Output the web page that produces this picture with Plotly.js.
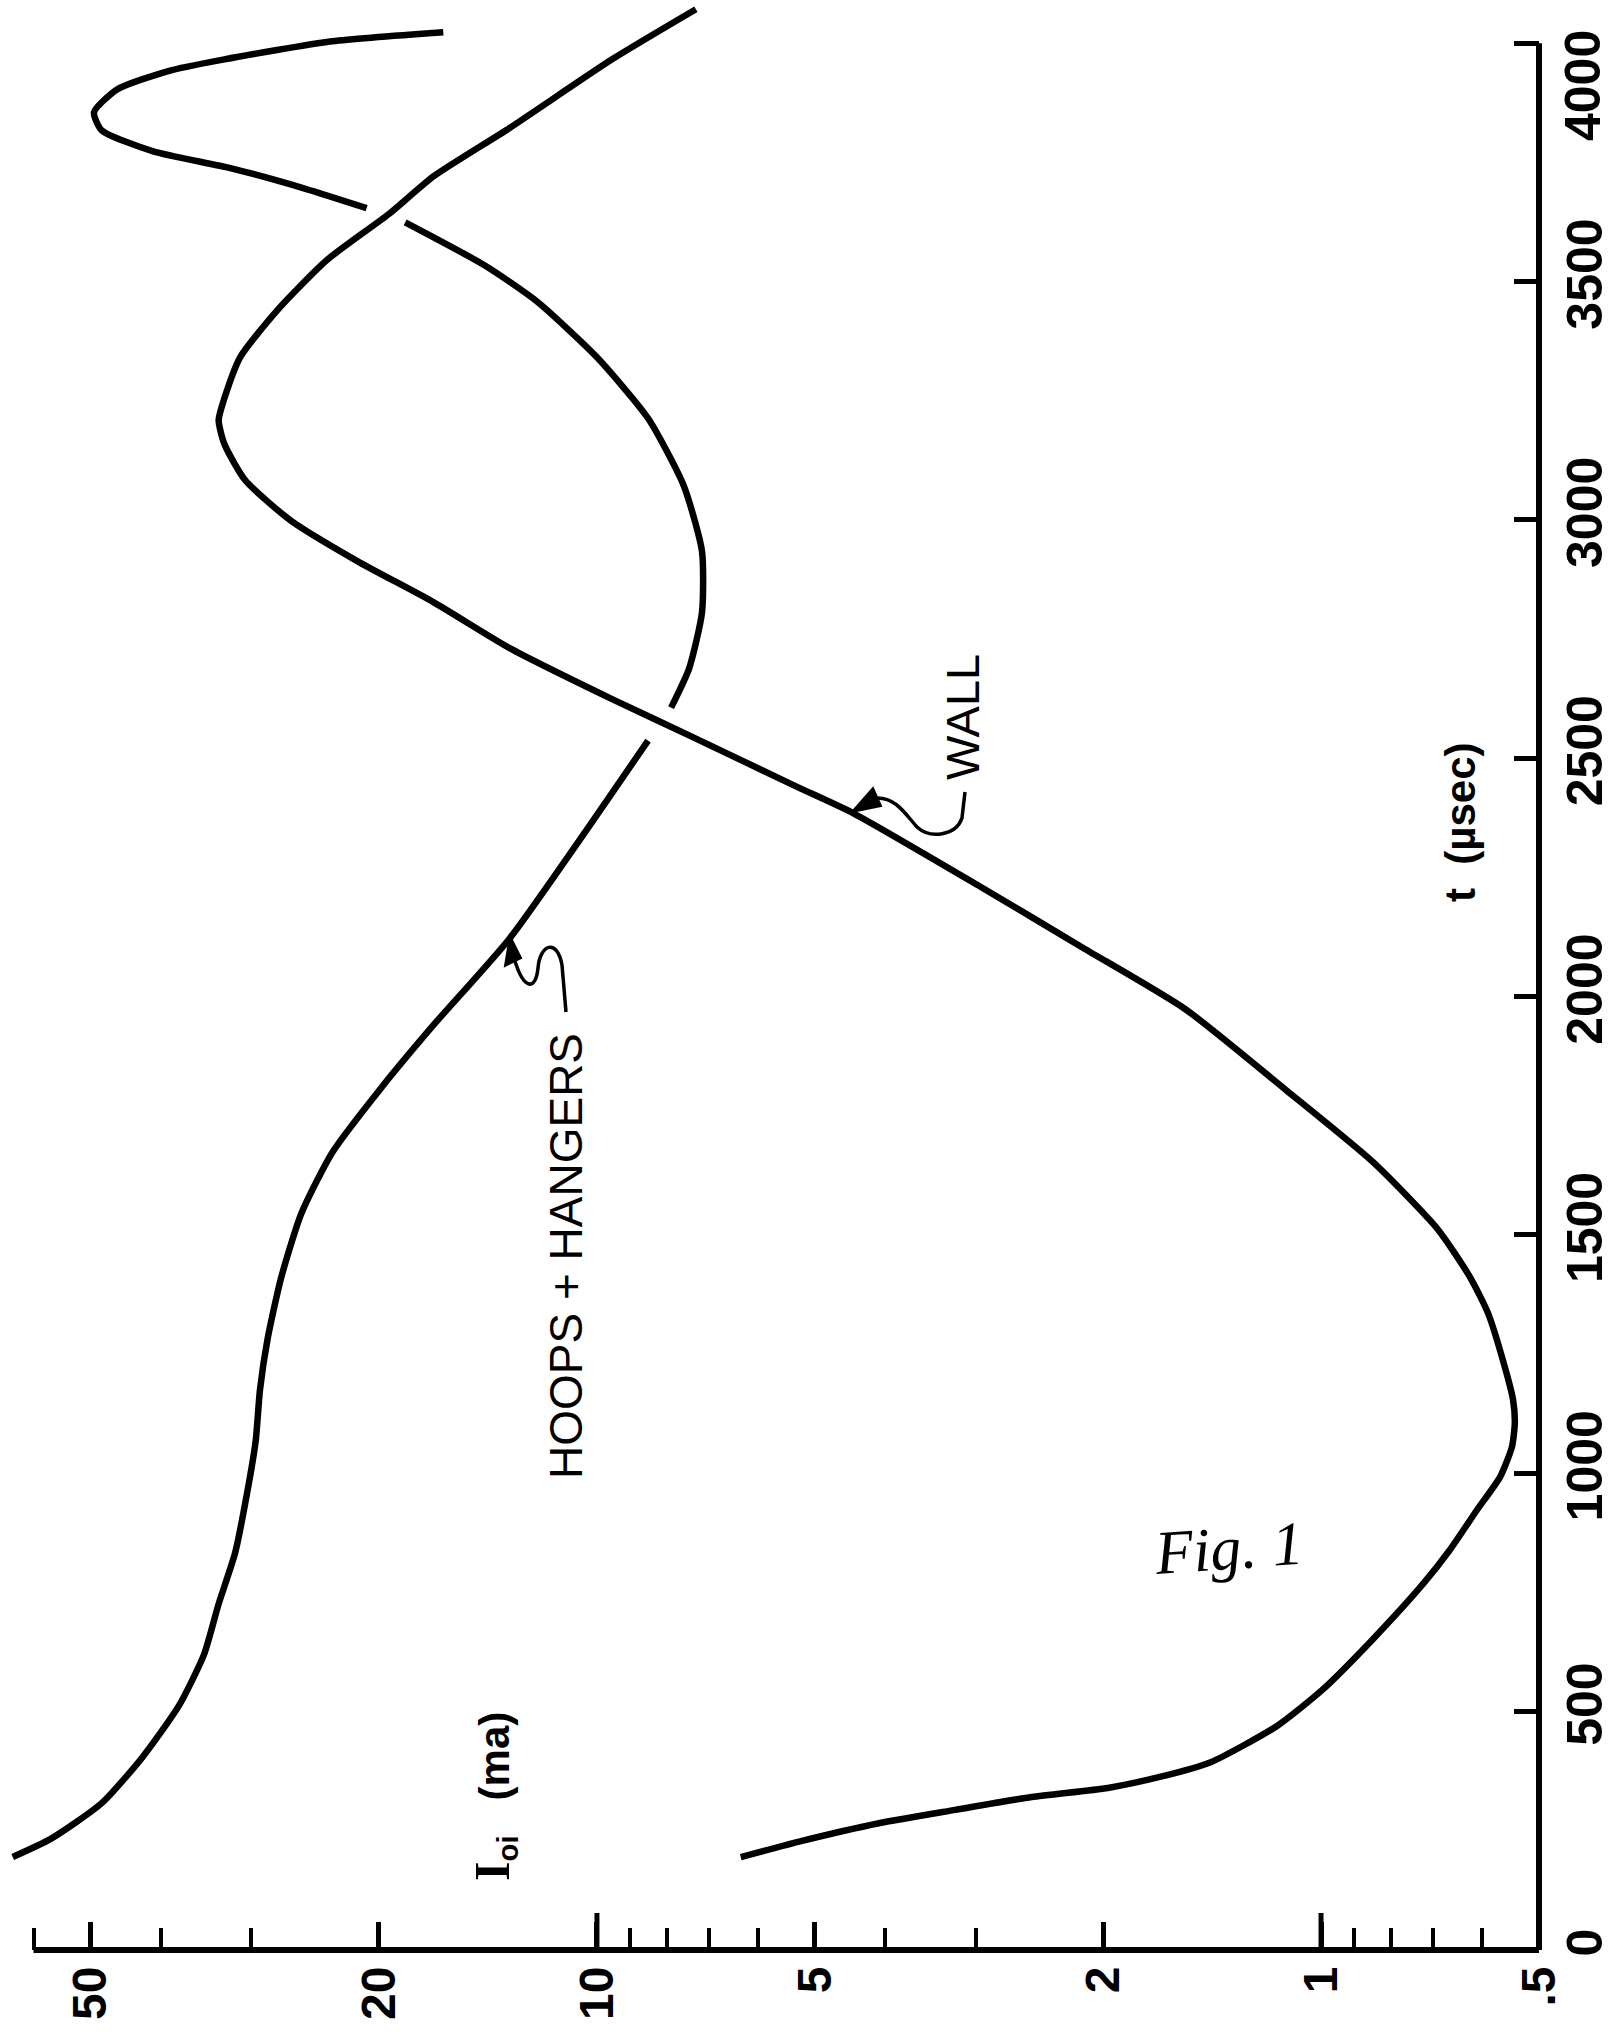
<!DOCTYPE html>
<html>
<head>
<meta charset="utf-8">
<script src="https://cdn.plot.ly/plotly-3.0.1.min.js"></script>
<style>
  html, body { margin: 0; padding: 0; background: #ffffff; }
  #chart { width: 1615px; height: 2036px; }
</style>
</head>
<body>
<div id="chart"></div>
<script>
// ---- data ----
// t in microseconds, current I_oi in ma (log scale)
const tHoops = [195,233,308,405,512,619,726,833,961,1068,1175,1282,1410,1545,1673,1811,1941,2122,2411,2537,null,2606,2688,2806,2934,3072,3213,3341,3458,3534,3624,null,3654,3694,3738,3773,3817,3855,3903,3941,3966,4004,4023];
const iHoops = [64.1,56.8,48.3,42.4,37.8,34.9,33.3,31.6,30.4,29.6,29.2,28.5,27.3,25.6,23.2,19.8,16.8,13.2,9.69,8.5,null,7.9,7.46,7.16,7.16,7.59,8.5,10.0,12.1,14.3,18.4,null,20.8,25.2,32.1,41.0,48.3,49.5,46.0,39.2,32.7,23.2,16.3];

const tWall = [195,229,266,294,321,340,363,394,470,545,652,770,839,923,992,1055,1105,1154,1238,1336,1412,1512,1653,1802,1974,2102,2230,2385,2441,2548,2624,2731,2827,2913,2999,3083,3159,3209,3255,3341,3438,3545,3641,3721,3822,3966,4071];
const iWall = [6.33,5.21,4.08,3.20,2.51,1.97,1.67,1.42,1.15,0.997,0.848,0.721,0.664,0.609,0.566,0.545,0.540,0.543,0.561,0.588,0.623,0.690,0.848,1.114,1.541,2.13,2.95,4.43,5.31,7.46,9.53,13.2,16.8,21.4,26.5,30.6,32.7,33.3,32.7,31.1,27.7,23.6,19.4,16.8,13.2,9.53,7.30];

const currentTickVals = [50,20,10,5,2,1,0.5];
const currentTickText = ['50','20','10','5','2','1','.5'];
const currentMinorVals = [60,40,30,9,8,7,6,4,3,0.9,0.8,0.7,0.6];
const currentLongVals = [10,1];
const timeTickVals = [0,500,1000,1500,2000,2500,3000,3500];
const timeTickText = ['0','500','1000','1500','2000','2500','3000','3500'];
const timeTopVal = 4000;
const timeTopText = '4000';

const seriesNames = ['HOOPS + HANGERS','WALL'];

// ---- layout geometry ----
const W = 1615, H = 2036;
const mL = 4, mR = 76, mT = 5, mB = 86;
const plotW = W - mL - mR, plotH = H - mT - mB;
const P = (x, y) => ((x - mL) / plotW).toFixed(5) + ',' + ((H - mB - y) / plotH).toFixed(5);
const px = x => (x - mL) / plotW;
const py = y => (H - mB - y) / plotH;

const sans = 'Liberation Sans, Arial, Helvetica, sans-serif';
const tickFontY = {family: sans, size: 50, color: '#000', weight: 'bold'};
const tickFontX = {family: sans, size: 48, color: '#000', weight: 'bold'};

const lineStyle = {color: '#000', width: 6.5, shape: 'spline', smoothing: 0.6};
const traces = [
  {x: iHoops, y: tHoops, name: seriesNames[0], type: 'scatter', mode: 'lines', line: lineStyle, connectgaps: false},
  {x: iWall, y: tWall, name: seriesNames[1], type: 'scatter', mode: 'lines', line: lineStyle}
];

const shapes = [
  // axis lines
  {type: 'line', xref: 'x', yref: 'paper', x0: 60, x1: 0.5, y0: 0, y1: 0, line: {color: '#000', width: 6}},
  {type: 'line', xref: 'paper', yref: 'y', x0: 1, x1: 1, y0: 0, y1: timeTopVal, line: {color: '#000', width: 6}},
  // leader for HOOPS + HANGERS
  {type: 'path', xref: 'paper', yref: 'paper',
   path: 'M' + P(510,936) + 'L' + P(505,966) + 'L' + P(521,958) + 'Z',
   fillcolor: '#000', line: {color: '#000', width: 2}},
  {type: 'path', xref: 'paper', yref: 'paper',
   path: 'M' + P(514,958) + 'C' + P(524,992) + ' ' + P(536,990) + ' ' + P(538,968) +
         'C' + P(540,944) + ' ' + P(557,938) + ' ' + P(562,965) + 'L' + P(566,1012),
   line: {color: '#000', width: 3.5}},
  // leader for WALL
  {type: 'path', xref: 'paper', yref: 'paper',
   path: 'M' + P(852,812) + 'L' + P(873,788) + 'L' + P(881,806) + 'Z',
   fillcolor: '#000', line: {color: '#000', width: 2}},
  {type: 'path', xref: 'paper', yref: 'paper',
   path: 'M' + P(876,798) + 'C' + P(896,797) + ' ' + P(906,815) + ' ' + P(917,827) +
         'C' + P(930,839) + ' ' + P(956,836) + ' ' + P(962,818) + 'L' + P(965,792),
   line: {color: '#000', width: 3.5}}
];
// longer ticks at the decades 10 and 1
currentLongVals.forEach(v => shapes.push({
  type: 'line', xref: 'x', yref: 'paper', x0: v, x1: v, y0: 0, y1: 37 / plotH,
  line: {color: '#000', width: 5}
}));

const layout = {
  width: W, height: H,
  margin: {l: mL, r: mR, t: mT, b: mB, pad: 0},
  paper_bgcolor: '#fff', plot_bgcolor: '#fff',
  showlegend: false,
  hovermode: false,
  xaxis: {
    type: 'log', range: [Math.log10(65.9), Math.log10(0.5)],
    showgrid: false, zeroline: false, showline: false,
    ticks: 'inside', ticklen: 28, tickwidth: 5, tickcolor: '#000',
    tickmode: 'array', tickvals: currentTickVals, ticktext: currentTickText,
    tickangle: -90, tickfont: tickFontX, ticklabelstandoff: 6,
    minor: {tickmode: 'array', tickvals: currentMinorVals, ticks: 'inside', ticklen: 22, tickwidth: 4, tickcolor: '#000', showgrid: false}
  },
  yaxis: {
    range: [0, 4080], side: 'right',
    showgrid: false, zeroline: false, showline: false,
    ticks: 'inside', ticklen: 25, tickwidth: 5, tickcolor: '#000',
    tickmode: 'array', tickvals: timeTickVals, ticktext: timeTickText,
    tickangle: -90, tickfont: tickFontY, ticklabelstandoff: 12,
    minor: {tickmode: 'array', tickvals: [timeTopVal], ticks: 'inside', ticklen: 25, tickwidth: 5, tickcolor: '#000', showgrid: false}
  },
  shapes: shapes,
  annotations: [
    {xref: 'paper', yref: 'paper', x: px(1583), y: py(86), text: timeTopText, showarrow: false,
     textangle: -90, xanchor: 'center', yanchor: 'middle', font: tickFontY},
    {xref: 'paper', yref: 'paper', x: px(1460), y: py(822), text: 't\u00a0\u00a0(\u00b5sec)', showarrow: false,
     textangle: -90, xanchor: 'center', yanchor: 'middle', font: {family: sans, size: 42, color: '#000', weight: 'bold'}},
    {xref: 'paper', yref: 'paper', x: px(494), y: py(1796),
     text: '<span style="font-family:Liberation Serif, Times New Roman, serif;font-size:50px">I</span><sub>oi</sub>\u00a0\u00a0\u00a0(ma)',
     showarrow: false, textangle: -90, xanchor: 'center', yanchor: 'middle',
     font: {family: sans, size: 42, color: '#000', weight: 'bold'}},
    {xref: 'paper', yref: 'paper', x: px(566), y: py(1256), text: seriesNames[0], showarrow: false,
     textangle: -90, xanchor: 'center', yanchor: 'middle', font: {family: sans, size: 46, color: '#000'}},
    {xref: 'paper', yref: 'paper', x: px(962), y: py(717), text: seriesNames[1], showarrow: false,
     textangle: -90, xanchor: 'center', yanchor: 'middle', font: {family: sans, size: 47, color: '#000'}},
    {xref: 'paper', yref: 'paper', x: px(1228), y: py(1548), text: 'Fig. 1', showarrow: false,
     textangle: -4, xanchor: 'center', yanchor: 'middle',
     font: {family: 'Liberation Serif, Times New Roman, serif', size: 62, color: '#000', style: 'italic'}}
  ]
};

Plotly.newPlot('chart', traces, layout, {displayModeBar: false, staticPlot: true});
</script>
</body>
</html>
